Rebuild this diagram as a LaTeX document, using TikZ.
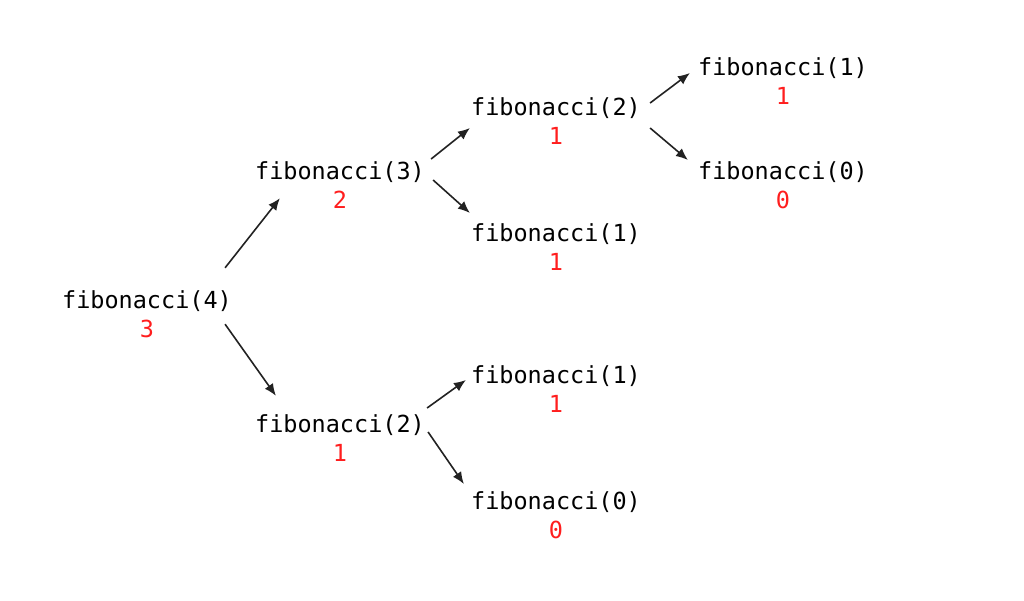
\documentclass[tikz,border=0pt]{standalone}
\usepackage{fontspec}
\setmonofont{DejaVu Sans Mono}
\usetikzlibrary{arrows.meta}

\definecolor{valred}{RGB}{255,30,30}
\definecolor{arrowgray}{RGB}{34,34,34}

\begin{document}
\begin{tikzpicture}[x=1pt,y=-1pt,
  call/.style={inner sep=0pt,text height=17pt,text depth=5pt,font=\ttfamily\fontsize{23.5}{26}\selectfont,text=black},
  val/.style={call,text=valred},
  arr/.style={-{Latex[length=12pt,width=10pt]},line width=1.6pt,draw=arrowgray}]
\useasboundingbox (0,0) rectangle (1024,600);
\node at (147,302) (f4)  [call] {fibonacci(4)};
\node at (340,173) (f3)  [call] {fibonacci(3)};
\node at (340,426) (f2b) [call] {fibonacci(2)};
\node at (556,109) (f2a) [call] {fibonacci(2)};
\node at (556,235) (f1a) [call] {fibonacci(1)};
\node at (556,377) (f1b) [call] {fibonacci(1)};
\node at (556,503) (f0b) [call] {fibonacci(0)};
\node at (783, 69) (f1u) [call] {fibonacci(1)};
\node at (783,173) (f0u) [call] {fibonacci(0)};
\node at (f4.south)  (v4)  [val,below=7pt] {3};
\node at (f3.south)  (v3)  [val,below=7pt] {2};
\node at (f2b.south) (v2b) [val,below=7pt] {1};
\node at (f2a.south) (v2a) [val,below=7pt] {1};
\node at (f1a.south) (v1a) [val,below=7pt] {1};
\node at (f1b.south) (v1b) [val,below=7pt] {1};
\node at (f0b.south) (v0b) [val,below=7pt] {0};
\node at (f1u.south) (v1u) [val,below=7pt] {1};
\node at (f0u.south) (v0u) [val,below=7pt] {0};
\draw [arr] ([xshift=-7pt,yshift=23pt]f4.north east) -- ([xshift=25pt,yshift=-14pt]f3.south west);
\draw [arr] ([xshift=-7pt,yshift=-11pt]f4.south east) -- ([xshift=21pt,yshift=19pt]f2b.north west);
\draw [arr] ([xshift=6pt,yshift=14pt]f3.east) -- ([xshift=-1pt,yshift=-19pt]f2a.west);
\draw [arr] ([xshift=8pt,yshift=-7pt]f3.east) -- ([xshift=-1pt,yshift=22pt]f1a.west);
\draw [arr] ([xshift=9pt,yshift=6pt]f2a.east) -- ([xshift=-8pt,yshift=-4pt]f1u.west);
\draw [arr] ([xshift=9pt,yshift=-19pt]f2a.east) -- ([xshift=-10pt,yshift=13pt]f0u.west);
\draw [arr] ([xshift=2pt,yshift=18pt]f2b.east) -- ([xshift=-5pt,yshift=-3pt]f1b.west);
\draw [arr] ([xshift=3pt,yshift=-6pt]f2b.east) -- ([xshift=-7pt,yshift=19pt]f0b.west);
\end{tikzpicture}
\end{document}
